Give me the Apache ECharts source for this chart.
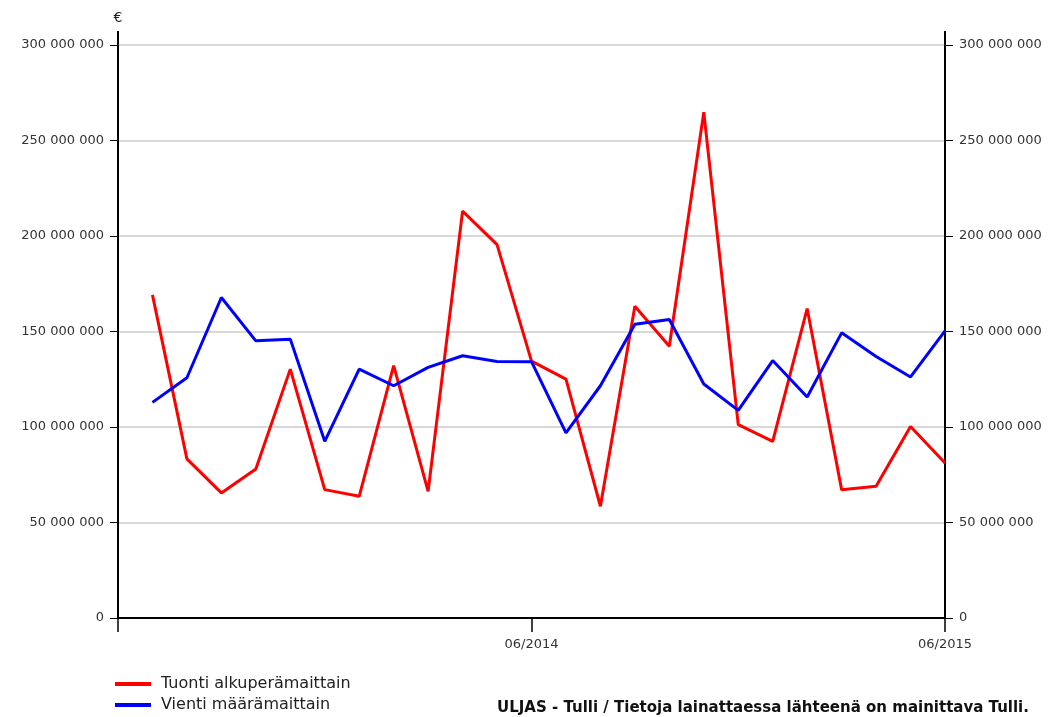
<!DOCTYPE html>
<html>
<head>
<meta charset="utf-8">
<script src="https://cdn.jsdelivr.net/npm/echarts@6/dist/echarts.min.js"></script>
<style>
html,body{margin:0;padding:0;background:#fff;}
#chart{width:1054px;height:717px;}
</style>
</head>
<body>
<div id="chart"></div>
<script>
const categories = ["06/2013","07/2013","08/2013","09/2013","10/2013","11/2013","12/2013",
  "01/2014","02/2014","03/2014","04/2014","05/2014","06/2014","07/2014","08/2014","09/2014",
  "10/2014","11/2014","12/2014","01/2015","02/2015","03/2015","04/2015","05/2015","06/2015"];
const tuonti = [null,169200000,83300000,65500000,78000000,130300000,67200000,63700000,132100000,
  66300000,213000000,195500000,134500000,125100000,58500000,163200000,142300000,264800000,
  101200000,92500000,162000000,67200000,69000000,100300000,81200000];
const vienti = [null,112900000,125800000,167800000,145100000,146000000,92500000,130300000,121600000,
  131200000,137300000,134300000,134200000,96900000,121600000,153800000,156300000,122500000,
  108700000,134800000,115700000,149300000,136900000,126200000,150300000];
const seriesNames = ["Tuonti alkuperämaittain","Vienti määrämaittain"];
const xLabelShown = ["06/2014","06/2015"];
const yMax = 300000000, yStep = 50000000;
const sourceText = "ULJAS - Tulli / Tietoja lainattaessa lähteenä on mainittava Tulli.";

const fmt = v => String(v).replace(/\B(?=(\d{3})+(?!\d))/g, " ");
const font = "DejaVu Sans, Verdana, sans-serif";

const chart = echarts.init(document.getElementById('chart'));
const yCommon = {
  type: 'value', min: 0, max: yMax, interval: yStep,
  axisLine: {show: true, lineStyle: {color: '#000', width: 2}},
  axisTick: {show: true, length: 8, lineStyle: {color: '#000', width: 1}},
  axisLabel: {formatter: fmt, color: '#333', fontSize: 13, fontFamily: font, margin: 14},
};
chart.setOption({
  animation: false,
  backgroundColor: '#fff',
  grid: {left: 118, right: 109, top: 45, bottom: 99, containLabel: false},
  xAxis: {
    type: 'category', data: categories, boundaryGap: false,
    axisLine: {lineStyle: {color: '#000', width: 2}},
    axisTick: {show: true, length: 14, lineStyle: {color: '#000', width: 1.5},
      interval: (i, v) => i === 0 || xLabelShown.includes(v)},
    axisLabel: {interval: (i, v) => xLabelShown.includes(v), color: '#333', fontSize: 13,
      fontFamily: font, margin: 20, showMaxLabel: true},
    splitLine: {show: false}
  },
  yAxis: [
    Object.assign({}, yCommon, {position: 'left', name: '€', nameLocation: 'end', nameGap: 20,
      nameTextStyle: {color: '#222', fontSize: 14, fontFamily: font, align: 'center'},
      splitLine: {show: true, lineStyle: {color: '#cccccc', width: 1.5}}}),
    Object.assign({}, yCommon, {position: 'right', splitLine: {show: false}})
  ],
  legend: {
    orient: 'vertical', left: 115, top: 676, height: 60, padding: 0, itemGap: 5,
    itemWidth: 36, itemHeight: 4,
    icon: 'rect', textStyle: {color: '#222', fontSize: 16, fontFamily: font, padding: [0,0,0,5]},
    data: seriesNames
  },
  graphic: [
    {type: 'line', shape: {x1: 118, y1: 31, x2: 118, y2: 45}, style: {stroke: '#000', lineWidth: 2}},
    {type: 'line', shape: {x1: 945, y1: 31, x2: 945, y2: 45}, style: {stroke: '#000', lineWidth: 2}},
    {type: 'text', left: 497, top: 701, style: {text: sourceText, fill: '#111',
      font: 'bold 15px ' + font}}
  ],
  series: [
    {name: seriesNames[0], type: 'line', data: tuonti, showSymbol: false, symbol: 'none',
      lineStyle: {color: '#ff0000', width: 3}, itemStyle: {color: '#ff0000'}},
    {name: seriesNames[1], type: 'line', data: vienti, showSymbol: false, symbol: 'none',
      lineStyle: {color: '#0000ff', width: 3}, itemStyle: {color: '#0000ff'}}
  ]
});
</script>
</body>
</html>
